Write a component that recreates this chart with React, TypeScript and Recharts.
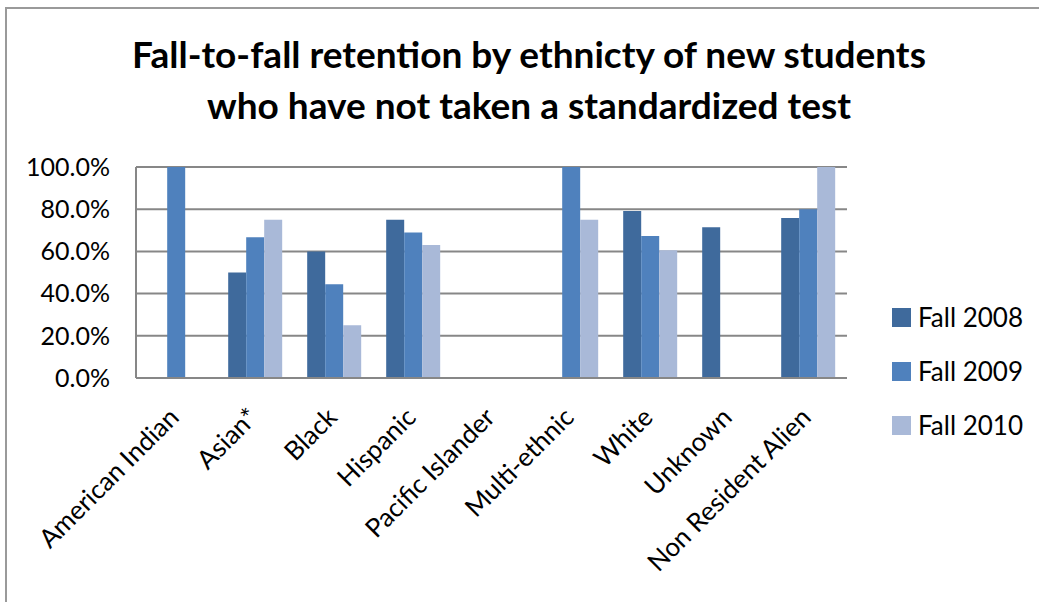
import React from "react";
import { BarChart, Bar, XAxis, YAxis, CartesianGrid, Legend } from "recharts";

const categories = [
  "American Indian",
  "Asian*",
  "Black",
  "Hispanic",
  "Pacific Islander",
  "Multi-ethnic",
  "White",
  "Unknown",
  "Non Resident Alien",
];
const fall2008: (number | null)[] = [null, 50, 60, 75, null, null, 79.1, 71.5, 75.8];
const fall2009: (number | null)[] = [100, 66.7, 44.4, 69, null, 100, 67.3, null, 80];
const fall2010: (number | null)[] = [null, 75, 25, 63, null, 75, 60.6, null, 100];
const yTicks = [0, 20, 40, 60, 80, 100];
const seriesNames = ["Fall 2008", "Fall 2009", "Fall 2010"];
const colors = ["#3F6A9C", "#4F81BD", "#A9B9D8"];

const data = categories.map((c, i) => ({
  name: c,
  f2008: fall2008[i],
  f2009: fall2009[i],
  f2010: fall2010[i],
}));

const FONT = "Lato, 'Open Sans', sans-serif";

const XTick = (props: any) => {
  const { x, y, payload } = props;
  const ax = x + 5;
  const ay = y + 39;
  return (
    <text
      x={ax}
      y={ay}
      transform={`rotate(-45, ${ax}, ${ay})`}
      textAnchor="end"
      fontSize={26}
      fontFamily={FONT}
      fill="#000"
    >
      {payload.value}
    </text>
  );
};

const LegendContent = () => (
  <div style={{ fontFamily: FONT }}>
    {seriesNames.map((n, i) => (
      <div
        key={n}
        style={{ display: "flex", alignItems: "center", height: 54, fontSize: 26, color: "#000" }}
      >
        <span
          style={{ display: "inline-block", width: 19, height: 19, background: colors[i], marginRight: 7 }}
        />
        {n}
      </div>
    ))}
  </div>
);

export default function App() {
  return (
    <div style={{ position: "absolute", left: 0, top: 0, width: 1039, height: 602, background: "#fff", overflow: "hidden" }}>
      <div
        style={{
          position: "absolute",
          left: 5,
          top: 7,
          width: 1100,
          height: 700,
          borderLeft: "2px solid #9a9a9a",
          borderTop: "2px solid #9a9a9a",
        }}
      />
      <div
        style={{
          position: "absolute",
          left: 0,
          top: 28,
          width: 1058,
          textAlign: "center",
          fontFamily: FONT,
          fontWeight: 700,
          fontSize: 37,
          lineHeight: "51px",
          color: "#000",
        }}
      >
        Fall-to-fall retention by ethnicty of new students
        <br />
        who have not taken a standardized test
      </div>
      <div style={{ position: "absolute", left: 0, top: 0 }}>
        <BarChart
          width={1039}
          height={602}
          data={data}
          margin={{ top: 167, right: 45, left: 0, bottom: 0 }}
          barCategoryGap="16.7%"
          barGap={0}
        >
          <CartesianGrid vertical={false} stroke="#878787" strokeWidth={2} />
          <XAxis
            dataKey="name"
            height={224}
            interval={0}
            tick={<XTick />}
            tickLine={false}
            tickSize={0}
            axisLine={{ stroke: "#878787", strokeWidth: 2 }}
          />
          <YAxis
            width={136}
            domain={[0, 100]}
            ticks={yTicks}
            tickFormatter={(v: number) => v.toFixed(1) + "%"}
            tickLine={false}
            tickSize={0}
            tickMargin={26}
            axisLine={{ stroke: "#878787", strokeWidth: 2 }}
            tick={{ fill: "#000", fontSize: 25, fontFamily: FONT }}
          />
          <Legend
            layout="vertical"
            align="right"
            verticalAlign="middle"
            content={<LegendContent />}
            wrapperStyle={{ left: 892, top: 290, width: 147 }}
          />
          <Bar dataKey="f2008" name={seriesNames[0]} fill={colors[0]} isAnimationActive={false} />
          <Bar dataKey="f2009" name={seriesNames[1]} fill={colors[1]} isAnimationActive={false} />
          <Bar dataKey="f2010" name={seriesNames[2]} fill={colors[2]} isAnimationActive={false} />
        </BarChart>
      </div>
    </div>
  );
}
